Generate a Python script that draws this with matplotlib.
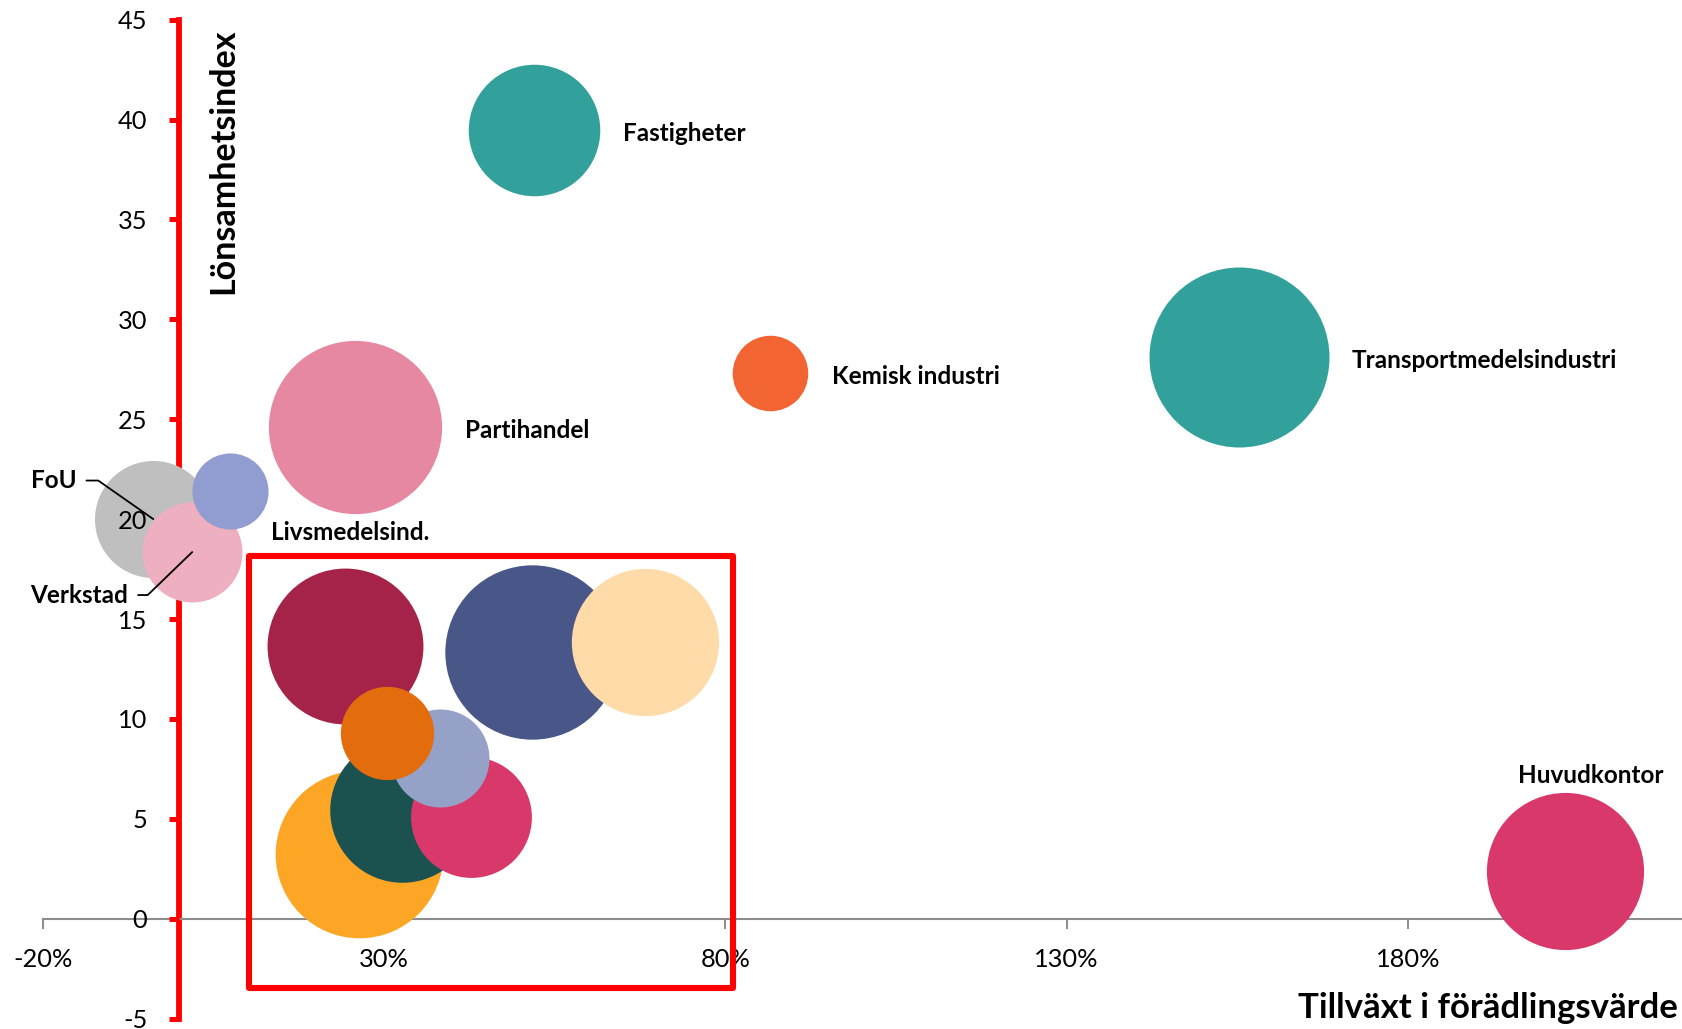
import matplotlib
matplotlib.use("Agg")
import matplotlib.pyplot as plt
from matplotlib.patches import Rectangle
from matplotlib.ticker import FuncFormatter, FixedLocator

# ---------------- data ----------------
sectors = ["Fastigheter", "Transportmedelsindustri", "Kemisk industri", "Partihandel",
           "FoU", "Livsmedelsind.", "Verkstad", "Sektor A", "Sektor B", "Sektor C",
           "Sektor D", "Sektor E", "Sektor F", "Sektor G", "Sektor H", "Huvudkontor"]
show_label = [True, True, True, True, True, True, True, False, False, False,
              False, False, False, False, False, True]
growth = [52.0, 155.2, 86.6, 25.75, -3.8, 7.4, 1.9, 24.3, 51.7, 68.3,
          30.4, 38.2, 42.7, 32.7, 26.4, 203.0]          # Tillväxt i förädlingsvärde (%)
profit = [39.48, 28.13, 27.32, 24.6, 20.0, 21.4, 18.35, 13.66, 13.34, 13.86,
          9.28, 8.06, 5.07, 5.44, 3.23, 2.40]           # Lönsamhetsindex
bubble_size = [173, 324, 57, 300, 137, 58, 100, 243, 304, 217,
               87, 96, 146, 209, 281, 247]
colors = ["#33A19B", "#33A19B", "#F26431", "#E688A2", "#BFBFBF", "#919DD1", "#EEAFC0",
          "#A52249", "#485688", "#FEDBA8", "#E36C0C", "#95A1C7", "#D9386A", "#1B5250",
          "#FDA626", "#D9386A"]
x_ticks = [-20, 30, 80, 130, 180]
y_ticks = [-5, 0, 5, 10, 15, 20, 25, 30, 35, 40, 45]
x_range = [-20, 220]
y_range = [-5, 45]
box_x = [10.2, 81.1]
box_y = [-3.47, 18.15]

# label placement (offset points) and leader lines
label_style = {
    "Fastigheter": dict(off=(64, -1), ha="left"),
    "Transportmedelsindustri": dict(off=(81.4, -1.2), ha="left"),
    "Kemisk industri": dict(off=(44.5, -0.9), ha="left"),
    "Partihandel": dict(off=(79.2, -1.2), ha="left"),
    "Livsmedelsind.": dict(off=(29.5, -28.1), ha="left"),
    "Huvudkontor": dict(off=(18.9, 70.2), ha="center"),
    "FoU": dict(off=(-55.1, 29.2), ha="right", leader=-35),
    "Verkstad": dict(off=(-46, -29.5), ha="right", leader=44),
}

FONT = "Lato"
plt.rcParams["font.family"] = [FONT, "DejaVu Sans"]

fig = plt.figure(figsize=(16.83, 10.29), dpi=100)
ax = fig.add_axes([0.02537, 0.0101, 0.97344, 0.97085])
ax.set_xlim(*x_range)
ax.set_ylim(*y_range)

# bubbles: larger drawn first (behind)
order = sorted(range(len(sectors)), key=lambda i: -bubble_size[i])
px_scale = (72.0 / fig.dpi) ** 2 * 100.0
for rank, i in enumerate(order):
    ax.scatter(growth[i], profit[i], s=bubble_size[i] * px_scale, color=colors[i],
               linewidths=0, zorder=1 + rank * 0.01)

# labels
for i, name in enumerate(sectors):
    if not show_label[i]:
        continue
    st = label_style[name]
    kw = {}
    if "leader" in st:
        kw["arrowprops"] = dict(arrowstyle="-", color="black", lw=1.3, shrinkA=5, shrinkB=0,
                                relpos=(1, 0.5),
                                connectionstyle=f"angle,angleA=0,angleB={st['leader']}")
    ax.annotate(name, xy=(growth[i], profit[i]), xytext=st["off"], textcoords="offset points",
                ha=st["ha"], va="center_baseline", fontsize=17.5, fontweight="bold",
                color="black", zorder=4, **kw)

# spines / axes
for s in ["top", "right"]:
    ax.spines[s].set_visible(False)
ax.spines["left"].set_position(("data", 0))
ax.spines["bottom"].set_position(("data", 0))
ax.spines["left"].set_color("#FF0000")
ax.spines["left"].set_linewidth(4.2)
ax.spines["bottom"].set_color("#8C8C8C")
ax.spines["bottom"].set_linewidth(1.5)
for s in ["left", "bottom"]:
    ax.spines[s].set_zorder(0.5)
ax.xaxis.set_zorder(0.5)
ax.yaxis.set_zorder(0.5)

ax.xaxis.set_major_locator(FixedLocator(x_ticks))
ax.xaxis.set_major_formatter(FuncFormatter(lambda v, _: f"{v:.0f}%"))
ax.yaxis.set_major_locator(FixedLocator(y_ticks))
ax.tick_params(axis="x", direction="out", length=7, width=1.4, color="#8C8C8C",
               labelsize=18.3, pad=14, labelcolor="black")
ax.tick_params(axis="y", direction="out", length=7, width=3.6, color="#FF0000",
               labelleft=False)
for v in y_ticks:
    ax.annotate(f"{v}", xy=(0, v), xytext=(-23, 0), textcoords="offset points",
                ha="right", va="center_baseline", fontsize=18.3, color="black", zorder=3,
                annotation_clip=False)

# highlight box
ax.add_patch(Rectangle((box_x[0], box_y[0]), box_x[1] - box_x[0], box_y[1] - box_y[0],
                       fill=False, edgecolor="#FF0000", linewidth=4.4, joinstyle="round",
                       zorder=5, clip_on=False))

# axis titles
fig.text(233 / 1683, 1 - 161 / 1029, "Lönsamhetsindex", rotation=90, rotation_mode="anchor",
         ha="center", va="baseline", fontsize=24.5, fontweight="bold")
fig.text(1678 / 1683, 1 - 1018.3 / 1029, "Tillväxt i förädlingsvärde", ha="right",
         va="baseline", fontsize=25, fontweight="bold")

fig.savefig("out.png", dpi=100)
